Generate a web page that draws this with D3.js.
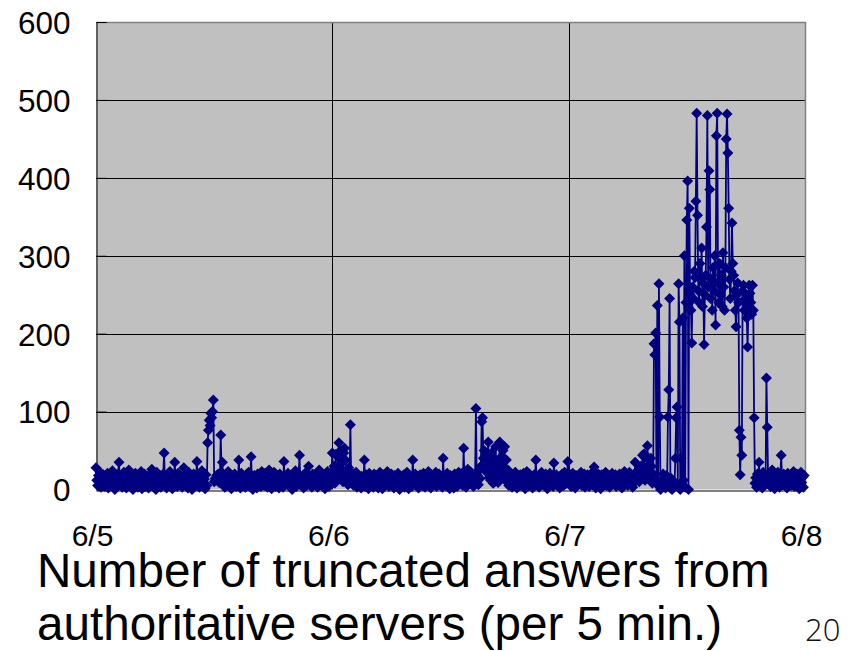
<!DOCTYPE html>
<html>
<head>
<meta charset="utf-8">
<script src="https://cdn.jsdelivr.net/npm/d3@7"></script>
<style>
  body { margin: 0; background: #fff; }
  svg text { font-family: "Liberation Sans", Arial, sans-serif; fill: #000; }
</style>
</head>
<body>
<div class="line-chart"></div>
<script>
// ---- Data: truncated answers per 5 min, one row per hour (12 values)
var startTime = new Date(2000, 5, 5, 0, 0);
var endTime = new Date(2000, 5, 8, 0, 0);

var day1 = [
  28,12,5,18,9,22,3,14,7,19,11,4,
  16,8,21,2,13,6,17,10,24,5,12,0,
  9,15,4,20,35,11,7,18,3,14,22,6,
  13,2,17,8,25,10,5,19,12,0,16,9,
  21,6,11,3,18,14,8,23,1,15,10,20,
  4,17,9,13,2,19,7,12,26,5,16,8,
  11,0,22,6,14,9,18,3,15,10,20,47,
  7,16,2,19,12,5,23,9,14,1,17,11,
  35,8,13,4,21,10,6,18,12,3,15,28,
  9,19,5,14,2,22,11,7,16,0,13,20,
  6,12,18,36,8,15,3,20,10,24,5,17,
  13,1,19,5,60,76,89,82,98,92,100,115,
  10,14,12,18,15,20,9,17,70,22,35,6,
  14,3,19,8,12,23,5,16,10,1,18,13,
  7,20,11,4,16,9,38,14,2,21,12,6,
  17,10,3,19,13,8,22,5,15,42,11,0,
  12,18,6,14,2,20,9,16,11,4,23,8,
  15,5,21,10,17,3,13,25,7,18,1,14,
  9,22,12,4,19,8,15,2,20,11,6,16,
  3,36,10,17,7,14,21,5,12,18,9,0,
  19,8,13,24,4,16,11,20,44,6,15,10,
  13,2,18,9,22,5,14,30,8,17,12,3,
  20,11,6,15,10,19,3,13,25,7,16,9,
  5,17,12,1,18,10,23,14,4,20,8,22
];

var day2 = [
  47,15,30,8,45,20,12,42,60,25,50,18,
  35,10,47,53,38,14,22,6,28,12,83,9,
  12,20,5,16,9,22,3,14,18,7,11,2,
  17,8,13,38,4,19,10,15,1,21,6,12,
  9,16,3,20,11,7,18,13,2,15,22,5,
  14,1,19,10,6,17,12,23,8,4,16,11,
  20,7,13,2,18,9,15,5,21,12,0,17,
  6,14,10,19,3,16,8,22,11,1,18,13,
  11,4,38,15,9,20,6,13,17,2,12,19,
  16,10,5,21,13,3,18,8,14,23,7,10,
  2,19,12,7,16,11,22,4,15,9,20,6,
  13,17,3,40,10,18,5,14,21,8,12,1,
  18,6,15,11,2,20,9,16,4,13,22,10,
  7,14,21,5,53,12,17,3,19,26,9,15,
  11,22,8,16,4,13,20,104,10,18,6,25,
  14,30,87,92,40,50,28,45,22,38,61,15,
  33,12,47,20,8,40,10,55,18,35,9,30,
  61,20,42,15,50,28,55,12,38,10,25,5,
  16,9,20,3,14,18,7,22,11,2,17,13,
  10,19,5,15,12,21,8,1,16,23,4,14,
  20,7,13,17,2,10,19,14,38,6,12,18,
  3,15,11,22,8,16,5,13,20,9,1,17,
  14,21,6,12,18,4,34,15,10,19,7,13,
  9,2,17,11,20,14,5,22,12,8,16,36
];

var day3 = [
  15,10,19,4,13,21,7,16,2,18,11,14,
  8,17,12,22,5,14,9,20,3,15,10,19,
  13,4,18,7,16,11,23,29,10,2,17,12,
  20,9,14,1,19,12,6,17,11,22,5,15,
  10,18,3,16,8,21,13,7,15,19,4,12,
  17,6,20,11,14,2,18,9,23,13,8,16,
  5,15,22,12,9,17,3,19,14,35,11,20,
  18,25,10,22,30,16,44,20,46,12,28,19,
  56,22,38,15,40,30,8,20,187,173,201,10,
  236,5,264,93,0,12,3,20,8,15,2,18,
  10,93,128,245,2,14,0,11,5,9,40,92,
  106,5,264,215,0,40,8,220,12,300,3,240,
  346,396,0,361,250,230,188,260,245,280,272,370,
  483,352,255,240,290,270,310,235,265,186,250,275,
  337,480,260,409,385,245,270,230,285,255,300,211,
  454,483,265,240,290,250,275,235,304,260,230,285,
  450,482,432,361,270,245,280,342,290,275,255,230,
  209,250,265,240,76,19,67,44,255,262,230,245,
  243,220,183,233,262,252,240,225,262,230,92,8,
  15,3,20,10,35,6,18,12,2,22,9,14,
  12,143,80,17,11,20,4,13,25,9,16,1,
  19,7,14,22,10,3,18,44,12,6,20,15,
  8,16,2,21,13,9,19,5,15,11,23,4,
  14,10,20,6,17,1,12,22,9,16,3,18
];

var yTicks = [0, 100, 200, 300, 400, 500, 600];
var xTicks = [new Date(2000, 5, 5), new Date(2000, 5, 6), new Date(2000, 5, 7), new Date(2000, 5, 8)];
var xLabels = ["6/5", "6/6", "6/7", "6/8"];
var titleLines = ["Number of truncated answers from", "authoritative servers (per 5 min.)"];
var pageNumber = "20";

// join the days and put a time on each 5-minute sample
var counts = day1.concat(day2, day3);
var series = counts.map(function(v, i) {
  return { t: d3.timeMinute.offset(startTime, 5 * i), v: v };
});

// ---- SVG
var W = 849, H = 651;
var plot = { left: 96, right: 805, top: 22, bottom: 489.5 };

var svg = d3.select(".line-chart")
  .append("svg")
    .attr("width", W)
    .attr("height", H);

// ---- Scales
var x = d3.scaleTime()
  .domain([startTime, endTime])
  .range([plot.left, plot.right]);

var y = d3.scaleLinear()
  .domain([0, 600])
  .range([plot.bottom, plot.top]);

// plot area background
svg.append("rect")
  .attr("x", plot.left)
  .attr("y", plot.top)
  .attr("width", plot.right - plot.left)
  .attr("height", plot.bottom - plot.top)
  .attr("fill", "#c0c0c0");

// ---- Grid lines
svg.append("g")
  .selectAll("line")
  .data(yTicks.filter(function(d) { return d > 0 && d < 600; }))
  .enter()
    .append("line")
    .attr("x1", plot.left)
    .attr("x2", plot.right)
    .attr("y1", function(d) { return Math.round(y(d)) + 0.5; })
    .attr("y2", function(d) { return Math.round(y(d)) + 0.5; })
    .attr("stroke", "#000")
    .attr("stroke-width", 1);

svg.append("g")
  .selectAll("line")
  .data(xTicks.slice(1, 3))
  .enter()
    .append("line")
    .attr("x1", function(d) { return Math.round(x(d)) + 0.5; })
    .attr("x2", function(d) { return Math.round(x(d)) + 0.5; })
    .attr("y1", plot.top)
    .attr("y2", plot.bottom)
    .attr("stroke", "#000")
    .attr("stroke-width", 1);

// top and right frame in gray
svg.append("path")
  .attr("d", "M" + plot.left + "," + (plot.top + 0.5) + "H" + (plot.right + 0.5) + "V" + plot.bottom)
  .attr("fill", "none")
  .attr("stroke", "#808080")
  .attr("stroke-width", 1.5);

// ---- Y axis
var yAxis = svg.append("g")
  .attr("transform", "translate(" + (plot.left + 0.5) + ",0)")
  .call(d3.axisLeft(y).tickValues(yTicks).tickSize(-10).tickPadding(26));
yAxis.select(".domain").attr("stroke", "#000");
yAxis.selectAll(".tick line").attr("stroke", "#000");
yAxis.selectAll("text")
  .attr("font-size", "31.5px")
  .attr("font-family", null)
  .attr("dy", "0.36em");

// ---- X axis
var xAxis = svg.append("g")
  .attr("transform", "translate(0," + (Math.round(plot.bottom) + 0.5) + ")")
  .call(d3.axisBottom(x).tickValues(xTicks).tickSize(0)
    .tickFormat(function(d, i) { return xLabels[i]; }));
xAxis.select(".domain").attr("stroke", "#000");
xAxis.selectAll("text")
  .attr("font-size", "30px")
  .attr("font-family", null)
  .attr("dy", null)
  .attr("y", 55)
  .attr("dx", -4);

// ---- Line and markers
var line = d3.line()
  .x(function(d) { return x(d.t); })
  .y(function(d) { return y(d.v); });

svg.append("path")
  .datum(series)
  .attr("d", line)
  .attr("fill", "none")
  .attr("stroke", "#000080")
  .attr("stroke-width", 1.8)
  .attr("stroke-linejoin", "round");

var diamond = "M0,-5.5L5.5,0L0,5.5L-5.5,0Z";
svg.append("g")
  .selectAll("path")
  .data(series)
  .enter()
    .append("path")
    .attr("d", diamond)
    .attr("transform", function(d) { return "translate(" + x(d.t) + "," + y(d.v) + ")"; })
    .attr("fill", "#000080");

// ---- Caption
svg.append("g")
  .selectAll("text")
  .data(titleLines)
  .enter()
    .append("text")
    .attr("x", 37)
    .attr("y", function(d, i) { return 587 + i * 53; })
    .attr("font-size", "47.6px")
    .text(function(d) { return d; });

svg.append("text")
  .attr("x", 805)
  .attr("y", 641)
  .attr("font-size", "31px")
  .style("font-family", "'Open Sans', 'Liberation Sans', sans-serif")
  .style("font-weight", 300)
  .style("fill", "#111")
  .text(pageNumber);
</script>
</body>
</html>
